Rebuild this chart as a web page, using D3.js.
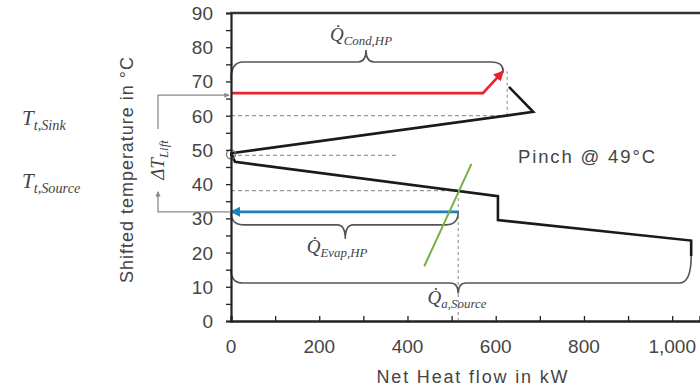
<!DOCTYPE html>
<html><head><meta charset="utf-8">
<script src="https://cdn.jsdelivr.net/npm/d3@7"></script>
<style>body{margin:0;background:#fff}svg{display:block}</style>
</head><body><svg id="c" width="700" height="389"></svg>
<script>
// ---- data ----
const xTicks = [0, 200, 400, 600, 800, 1000];
const yTicks = [0, 10, 20, 30, 40, 50, 60, 70, 80, 90];
const gccUpperQ = [0, 685, 630];
const gccUpperT = [49, 61.1, 68.4];
const gccLowerQ = [0, 9, 605, 605, 1043, 1043];
const gccLowerT = [49, 46.5, 36.5, 29.5, 23.5, 19];
const condQ = [0, 571, 617];
const condT = [66.6, 66.6, 73];
const evapQ = [515, 0];
const evapT = [31.9, 31.9];
const sourceLineQ = [438, 545];
const sourceLineT = [16, 45.9];
const pinchT = 49;
const tSink = 66;
const tSource = 31.9;
const dashH = [{t: 60, q: 626}, {t: 48.4, q: 376}, {t: 38.1, q: 515}];
const dashV = [{q: 626, t0: 60, t1: 73}, {q: 515, t0: 0, t1: 38.1}];

const svg = d3.select("#c");
const x = d3.scaleLinear().domain([0, 1063]).range([231, 700]);
const y = d3.scaleLinear().domain([0, 90]).range([321, 13]);
const axisCol = "#222", txtCol = "#454545";

// dashed guides
const g = svg.append("g");
dashH.forEach(d => g.append("line").attr("x1", x(0)).attr("x2", x(d.q)).attr("y1", y(d.t)).attr("y2", y(d.t))
  .attr("stroke", "#9a9a9a").attr("stroke-width", 1.2).attr("stroke-dasharray", "4,3"));
dashV.forEach(d => g.append("line").attr("x1", x(d.q)).attr("x2", x(d.q)).attr("y1", y(d.t0)).attr("y2", y(d.t1))
  .attr("stroke", "#9a9a9a").attr("stroke-width", 1.2).attr("stroke-dasharray", "3,3"));

// braces
function brace(x1, yL, x2, yR, yH, xc, yC) {
  const r = 12, r2 = 8;
  return `M${x1},${yL} Q${x1},${yH} ${x1 + r},${yH} L${xc - r2},${yH} Q${xc},${yH} ${xc},${yC}` +
    ` Q${xc},${yH} ${xc + r2},${yH} L${x2 - r},${yH} Q${x2},${yH} ${x2},${yR}`;
}
const braceCol = "#555";
g.append("path").attr("d", brace(x(0), y(70.5), x(617), y(73), y(75.7), x(306), y(79.2)))
  .attr("fill", "none").attr("stroke", braceCol).attr("stroke-width", 1.6);
g.append("path").attr("d", brace(x(0), y(31.9), x(515), y(31.9), y(28.1), x(259), y(24)))
  .attr("fill", "none").attr("stroke", braceCol).attr("stroke-width", 1.6);
g.append("path").attr("d", brace(x(0), y(15), x(1043), y(19), y(11.1), x(515), y(8)))
  .attr("fill", "none").attr("stroke", braceCol).attr("stroke-width", 1.6);

// defs
const defs = svg.append("defs");
function marker(id, col) {
  defs.append("marker").attr("id", id).attr("viewBox", "0 0 10 10").attr("refX", 9).attr("refY", 5)
    .attr("markerWidth", 4).attr("markerHeight", 4).attr("orient", "auto-start-reverse")
    .append("path").attr("d", "M0,0 L10,5 L0,10 z").attr("fill", col);
}
marker("mRed", "#e8232b"); marker("mBlue", "#1f7fc0"); marker("mGray", "#888");

const line = d3.line().x(d => x(d[0])).y(d => y(d[1]));
const zip = (a, b) => a.map((v, i) => [v, b[i]]);

// GCC
g.append("path").attr("d", line(zip(gccUpperQ, gccUpperT))).attr("fill", "none").attr("stroke", "#1a1a1a").attr("stroke-width", 2.6).attr("stroke-linejoin", "miter");
g.append("path").attr("d", line(zip(gccLowerQ, gccLowerT))).attr("fill", "none").attr("stroke", "#1a1a1a").attr("stroke-width", 2.6).attr("stroke-linejoin", "miter");

// condenser (red)
g.append("path").attr("d", line(zip(condQ, condT))).attr("fill", "none").attr("stroke", "#e8232b").attr("stroke-width", 2.6).attr("marker-end", "url(#mRed)");
// evaporator (blue)
g.append("path").attr("d", line(zip(evapQ, evapT))).attr("fill", "none").attr("stroke", "#1f7fc0").attr("stroke-width", 2.6).attr("marker-end", "url(#mBlue)");
// source line (green)
g.append("path").attr("d", line(zip(sourceLineQ, sourceLineT))).attr("fill", "none").attr("stroke", "#76b041").attr("stroke-width", 2);

// pinch marker
g.append("circle").attr("cx", x(0)).attr("cy", y(pinchT) + 1).attr("r", 4.5).attr("fill", "none").attr("stroke", "#777").attr("stroke-width", 1.3);
g.append("rect").attr("x", x(0) - 1).attr("y", y(pinchT) - 1).attr("width", 3).attr("height", 4).attr("fill", "#111");

// axes
const ya = svg.append("g").attr("transform", `translate(${x(0)},0)`)
  .call(d3.axisLeft(y).tickValues(d3.range(0, 91, 5)).tickSize(5).tickFormat(""));
ya.select(".domain").attr("stroke", axisCol).attr("stroke-width", 2.2);
ya.selectAll(".tick line").attr("stroke", axisCol).attr("stroke-width", 1.3);
const xa = svg.append("g").attr("transform", `translate(0,${y(0)})`)
  .call(d3.axisBottom(x).tickValues(d3.range(0, 1001, 100)).tickSize(-5).tickFormat(""));
xa.select(".domain").attr("stroke", axisCol).attr("stroke-width", 2.4);
xa.selectAll(".tick line").attr("stroke", axisCol).attr("stroke-width", 1.3);
svg.append("line").attr("x1", x(0) - 1).attr("x2", 700).attr("y1", y(90)).attr("y2", y(90)).attr("stroke", "#333").attr("stroke-width", 2.6);

// tick labels
const font = "Liberation Sans, Arial, sans-serif";
svg.append("g").selectAll("text").data(yTicks).join("text")
  .attr("x", 213).attr("y", d => y(d) + 7).attr("text-anchor", "end")
  .attr("font-family", font).attr("font-size", 19).attr("fill", txtCol).text(d => d);
svg.append("g").selectAll("text").data(xTicks).join("text")
  .attr("x", d => x(d)).attr("y", 353).attr("text-anchor", "middle")
  .attr("font-family", font).attr("font-size", 19).attr("fill", txtCol).text(d => d3.format(",")(d));

// axis titles
svg.append("text").attr("x", 472).attr("y", 383).attr("text-anchor", "middle").attr("font-family", font)
  .attr("font-size", 18).attr("fill", txtCol).attr("textLength", 191).text("Net Heat flow in kW");
svg.append("text").attr("transform", "translate(133,170) rotate(-90)").attr("text-anchor", "middle").attr("font-family", font)
  .attr("font-size", 18).attr("fill", txtCol).attr("textLength", 226).text("Shifted temperature in °C");

svg.append("text").attr("x", 518).attr("y", 163).attr("font-family", font).attr("font-size", 18.5)
  .attr("fill", txtCol).attr("textLength", 137).text("Pinch @ 49°C");

// delta T lift arrow
const ax = 158;
svg.append("path").attr("d", `M${x(0)},${y(tSource)} L${ax},${y(tSource)} L${ax},${y(tSource) - 20}`)
  .attr("fill", "none").attr("stroke", "#888").attr("stroke-width", 1.3).attr("marker-end", "url(#mGray)");
svg.append("path").attr("d", `M${ax},129 L${ax},${y(tSink)} L${x(0) - 2},${y(tSink)}`)
  .attr("fill", "none").attr("stroke", "#888").attr("stroke-width", 1.3).attr("marker-end", "url(#mGray)");

// math labels
const serif = "Liberation Serif, DejaVu Serif, serif";
function mathLabel(xp, yp, main, sub, anchor, dot, size, rot) {
  const t = svg.append("text").attr("font-family", serif).attr("font-style", "italic").attr("fill", "#444")
    .attr("text-anchor", anchor || "start");
  if (rot) t.attr("transform", `translate(${xp},${yp}) rotate(-90)`); else t.attr("x", xp).attr("y", yp);
  t.append("tspan").attr("font-size", size).text(main + (dot ? "\u0307" : ""));
  t.append("tspan").attr("font-size", size * 0.68).attr("dy", size * 0.22).text(sub);
  return t;
}
mathLabel(22, 125, "T", "t,Sink", "start", false, 21);
mathLabel(22, 188, "T", "t,Source", "start", false, 21);
mathLabel(361, 41, "Q", "Cond,HP", "middle", true, 19);
mathLabel(337, 253, "Q", "Evap,HP", "middle", true, 19);
mathLabel(457, 304, "Q", "a,Source", "middle", true, 19);
mathLabel(164, 160, "ΔT", "Lift", "middle", false, 19, true);
</script></body></html>
